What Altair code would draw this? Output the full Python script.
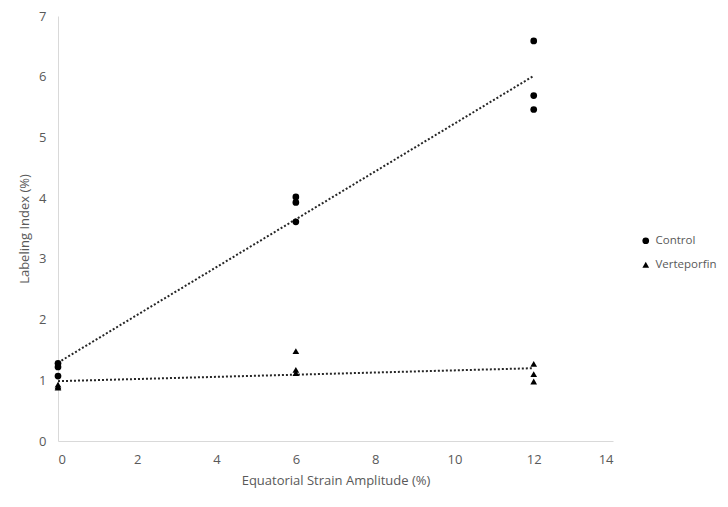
import altair as alt
import pandas as pd

strain_x = [0, 0, 0, 6, 6, 6, 12, 12, 12]
control_y = [1.28, 1.22, 1.07, 4.02, 3.93, 3.61, 6.59, 5.69, 5.46]
verteporfin_y = [0.88, 0.90, 0.93, 1.48, 1.17, 1.12, 1.27, 1.10, 0.98]
series_names = ["Control", "Verteporfin"]

rows = []
for x, y in zip(strain_x, control_y):
    rows.append({"strain": x, "index": y, "group": series_names[0]})
for x, y in zip(strain_x, verteporfin_y):
    rows.append({"strain": x, "index": y, "group": series_names[1]})
df = pd.DataFrame(rows)

FONT = "Open Sans"
GRAY = "#595959"

xscale = alt.Scale(domain=[0, 14], nice=False)
yscale = alt.Scale(domain=[0, 7], nice=False)

xenc = alt.X("strain:Q", scale=xscale,
             axis=alt.Axis(title="Equatorial Strain Amplitude (%)", values=[0, 2, 4, 6, 8, 10, 12, 14],
                           format="d", grid=False, ticks=False, domainColor="#d9d9d9", labelColor=GRAY,
                           titleColor=GRAY, labelFontSize=13, titleFontSize=13, labelFont=FONT,
                           titleFont=FONT, titleFontWeight="normal", labelPadding=12, titlePadding=8))
yenc = alt.Y("index:Q", scale=yscale,
             axis=alt.Axis(title="Labeling Index (%)", values=[0, 1, 2, 3, 4, 5, 6, 7],
                           format="d", grid=False, ticks=False, domainColor="#d9d9d9", labelColor=GRAY,
                           titleColor=GRAY, labelFontSize=13, titleFontSize=13, labelFont=FONT,
                           titleFont=FONT, titleFontWeight="normal", labelPadding=12, titlePadding=7))

points = alt.Chart(df).mark_point(filled=True, size=45, opacity=1, color="black").encode(
    x=xenc, y=yenc,
    shape=alt.Shape("group:N", scale=alt.Scale(domain=series_names, range=["circle", "triangle-up"]),
                    legend=alt.Legend(title=None, orient="none", legendX=582, legendY=219,
                                      labelColor=GRAY, labelFont=FONT, labelFontSize=11.5,
                                      symbolFillColor="black", symbolStrokeColor="black",
                                      symbolSize=45, rowPadding=10, padding=0)),
)

lines = alt.Chart(df).transform_regression(
    "strain", "index", groupby=["group"], extent=[0, 12]
).mark_line(color="#262626", strokeDash=[2, 2], strokeWidth=2).encode(
    x="strain:Q", y="index:Q", detail="group:N"
)

chart = alt.layer(lines, points).properties(
    width=555, height=425,
    autosize=alt.AutoSizeParams(type="none"),
    padding={"left": 50, "top": 8, "right": 107, "bottom": 58},
).configure_view(stroke=None)

chart.save("out.html", embed_options={"renderer": "svg", "actions": False})
